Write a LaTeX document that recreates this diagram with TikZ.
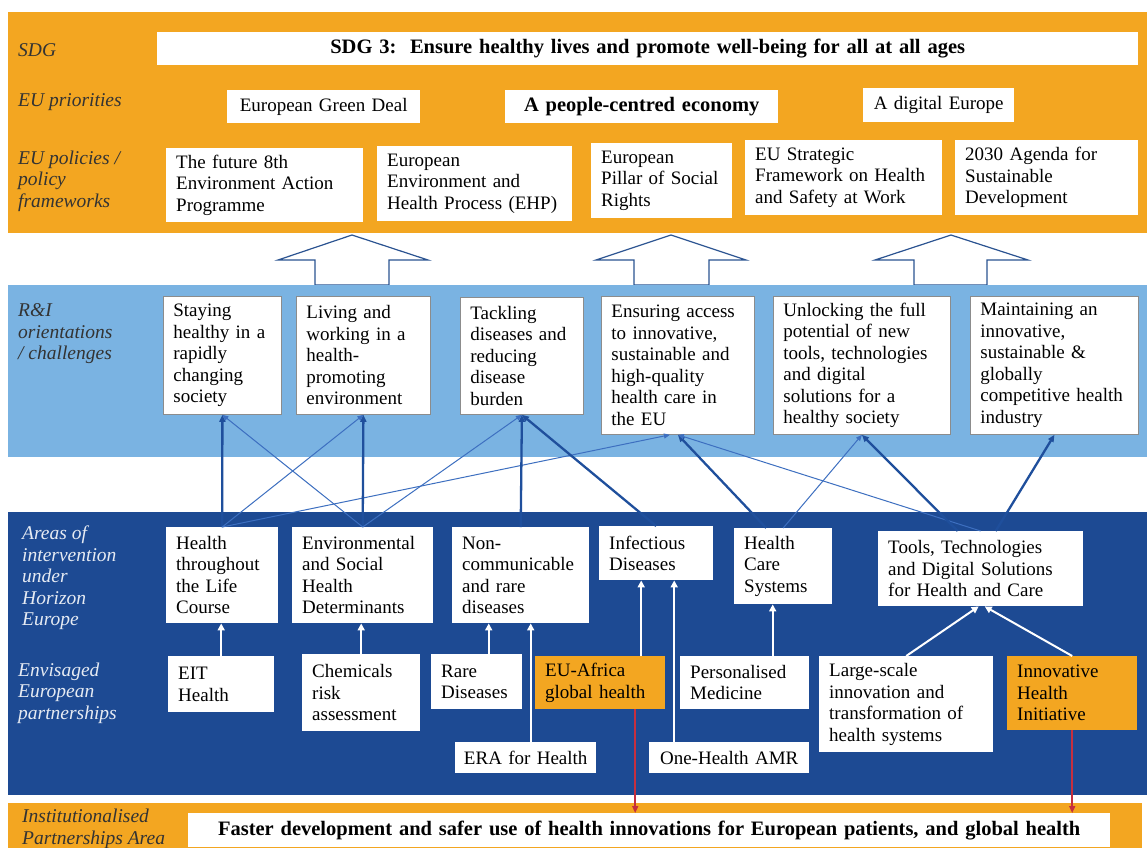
\documentclass[tikz,border=0pt]{standalone}
\usepackage{fontspec}
\setmainfont{Liberation Serif}
\usetikzlibrary{arrows.meta}

\definecolor{sdgorange}{HTML}{F3A621}
\definecolor{ribandblue}{HTML}{7AB3E2}
\definecolor{areablue}{HTML}{1D4A93}
\definecolor{linkdark}{HTML}{1F4F9C}
\definecolor{linkmid}{HTML}{3D6FC0}
\definecolor{arrowblue}{HTML}{2B5391}
\definecolor{boxgray}{HTML}{8C8C8C}
\definecolor{labgray}{HTML}{333333}
\definecolor{labwhite}{HTML}{E6EBF3}
\definecolor{instred}{HTML}{C62F3E}

\begin{document}
\begin{tikzpicture}[x=1pt, y=-1pt, font=\fontsize{19}{21.5}\selectfont,
  box/.style={fill=white, anchor=north west, align=left, inner xsep=10pt, inner ysep=1pt},
  ribox/.style={box, draw=boxgray, line width=0.8pt},
  pbox/.style={box, fill=sdgorange},
  cbox/.style={box, align=center, inner xsep=4pt},
  bfbox/.style={cbox, font=\fontsize{20.5}{22}\selectfont\bfseries},
  lab/.style={anchor=west, align=left, inner sep=0pt, text=labgray, font=\fontsize{19.5}{21.5}\selectfont\itshape},
  link/.style={draw=linkmid, line width=1pt, -{Triangle[length=6pt,width=5pt]}},
  mainlink/.style={draw=linkdark, line width=2.3pt, -{Triangle[length=7pt,width=6pt]}},
  feed/.style={draw=white, line width=2pt, -{Triangle[length=7pt,width=7pt]}},
  inst/.style={draw=instred, line width=1.6pt, -{Triangle[length=7pt,width=6pt]}},
  bigarrow/.style={draw=arrowblue, line width=1.2pt, fill=white}]

\useasboundingbox (0,0) rectangle (1147,847);
\fill[white] (0,0) rectangle (1147,847);

% bands
\fill[sdgorange] (8,12) rectangle (1147,233);
\draw[bigarrow] (315,285) -- (315,260) -- (278,260) -- (352,235) -- (428,260) -- (389,260) -- (389,285) -- cycle;
\draw[bigarrow] (634,285) -- (634,260) -- (596,260) -- (671,235) -- (746,260) -- (709,260) -- (709,285) -- cycle;
\draw[bigarrow] (914,285) -- (914,260) -- (875,260) -- (951,235) -- (1028,260) -- (987,260) -- (987,285) -- cycle;
\fill[ribandblue] (8,285) rectangle (1147,457);
\fill[areablue] (8,512) rectangle (1147,795);
\fill[sdgorange] (8,803) rectangle (1142,860);

% row labels
\node[lab] (lsdg) at (18,50) {SDG};
\node[lab] (lpri) at (18,102) {EU priorities};
\node[lab] (lpol) at (18,181) {EU policies /\\policy\\frameworks};
\node[lab] (lri) at (18,334) {R\&I\\orientations\\/ challenges};
\node[lab, text=labwhite] (larea) at (22,578) {Areas of\\intervention\\under\\Horizon\\Europe};
\node[lab, text=labwhite] (lpart) at (18,693) {Envisaged\\European\\partnerships};
\node[lab] (linst) at (22,829) {Institutionalised\\Partnerships Area};

% SDG, priorities, policies
\node[bfbox, text width=973pt, minimum height=33pt] (sdg) at (157,32) {SDG 3:\ \ Ensure healthy lives and promote well-being for all at all ages};
\node[cbox, text width=185pt, minimum height=33pt] (egd) at (227,90) {European Green Deal};
\node[bfbox, text width=265pt, minimum height=33pt] (pce) at (505,90) {A people-centred economy};
\node[cbox, text width=143pt, minimum height=34pt] (dig) at (863,88) {A digital Europe};

\node[box, text width=177pt, minimum height=74pt] (eap) at (166,148) {The future 8th\\Environment Action\\Programme};
\node[box, text width=175pt, minimum height=75pt] (ehp) at (377,146) {European\\Environment and\\Health Process (EHP)};
\node[box, text width=121pt, minimum height=75pt] (pil) at (591,143) {European\\Pillar of Social\\Rights};
\node[box, text width=177pt, minimum height=75pt] (osh) at (745,140) {EU Strategic\\Framework on Health\\and Safety at Work};
\node[box, text width=163pt, minimum height=75pt] (agd) at (955,140) {2030 Agenda for\\Sustainable\\Development};

% R&I orientations
\node[ribox, text width=98pt, minimum height=118pt] (stay) at (163,296) {Staying\\healthy in a\\rapidly\\changing\\society};
\node[ribox, text width=114pt, minimum height=118pt] (liv) at (296,296) {Living and\\working in a\\health-\\promoting\\environment};
\node[ribox, text width=103pt, minimum height=117pt] (tack) at (460,297) {Tackling\\diseases and\\reducing\\disease\\burden};
\node[ribox, text width=133pt, minimum height=138pt] (ens) at (601,296) {Ensuring access\\to innovative,\\sustainable and\\high-quality\\health care in\\the EU};
\node[ribox, text width=157pt, minimum height=138pt] (unl) at (773,296) {Unlocking the full\\potential of new\\tools, technologies\\and digital\\solutions for a\\healthy society};
\node[ribox, text width=148pt, minimum height=138pt] (mnt) at (970,296) {Maintaining an\\innovative,\\sustainable \&\\globally\\competitive health\\industry};

% areas of intervention
\node[box, text width=92pt, minimum height=96pt] (hlc) at (166,527) {Health\\throughout\\the Life\\Course};
\node[box, text width=121pt, minimum height=96pt] (esd) at (292,527) {Environmental\\and Social\\Health\\Determinants};
\node[box, text width=117pt, minimum height=96pt] (ncd) at (452,527) {Non-\\communicable\\and rare\\diseases};
\node[box, text width=94pt, minimum height=54pt] (inf) at (599,526) {Infectious\\Diseases};
\node[box, text width=78pt, minimum height=76pt] (hcs) at (734,528) {Health\\Care\\Systems};
\node[box, text width=185pt, minimum height=75pt] (ttd) at (878,531) {Tools, Technologies\\and Digital Solutions\\for Health and Care};

% envisaged partnerships
\node[box, text width=86pt, minimum height=56pt] (eit) at (168,656) {EIT\\Health};
\node[box, text width=98pt, minimum height=77pt] (chem) at (302,654) {Chemicals\\risk\\assessment};
\node[box, text width=71pt, minimum height=55pt] (rare) at (431,654) {Rare\\Diseases};
\node[pbox, text width=110pt, minimum height=53pt] (afr) at (535,656) {EU-Africa\\global health};
\node[box, text width=109pt, minimum height=53pt] (pmed) at (680,656) {Personalised\\Medicine};
\node[box, text width=154pt, minimum height=96pt] (lsi) at (819,656) {Large-scale\\innovation and\\transformation of\\health systems};
\node[pbox, text width=110pt, minimum height=74pt] (ihi) at (1007,656) {Innovative\\Health\\Initiative};
\node[cbox, text width=133pt, minimum height=31pt] (era) at (455,742) {ERA for Health};
\node[cbox, text width=152pt, minimum height=31pt] (amr) at (649,742) {One-Health AMR};

% institutionalised partnerships
\node[bfbox, text width=914pt, minimum height=34pt] (fast) at (188,813) {Faster development and safer use of health innovations for European patients, and global health};

% areas -> R&I orientations
\draw[mainlink] (hlc.north) -- (stay.south);
\draw[link] (hlc.north) -- (liv.south);
\draw[link] (hlc.north) -- ([xshift=-8pt]ens.south);
\draw[mainlink] (esd.north) -- (liv.south);
\draw[link] (esd.north) -- (stay.south);
\draw[link] (esd.north) -- (tack.south);
\draw[mainlink] (ncd.north) -- (tack.south);
\draw[mainlink] (inf.north) -- (tack.south);
\draw[mainlink] ([xshift=-17pt]hcs.north) -- (ens.south);
\draw[link] (hcs.north) -- (unl.south);
\draw[link] (ttd.north) -- (ens.south);
\draw[mainlink] ([xshift=-23pt]ttd.north) -- (unl.south);
\draw[mainlink] ([xshift=15pt]ttd.north) -- (mnt.south);

% partnerships -> areas
\coordinate (rareup) at ([xshift=12pt]rare.north);
\coordinate (eraup) at ([xshift=5pt]era.north);
\coordinate (afrup) at ([xshift=41pt]afr.north);
\coordinate (amrup) at ([xshift=-55pt]amr.north);
\coordinate (pmedup) at ([xshift=28pt]pmed.north);
\draw[feed] (eit.north) -- (eit.north |- hlc.south);
\draw[feed] (chem.north) -- (chem.north |- esd.south);
\draw[feed] (rareup) -- (rareup |- ncd.south);
\draw[feed] (eraup) -- (eraup |- ncd.south);
\draw[feed] (afrup) -- (afrup |- inf.south);
\draw[feed] (amrup) -- (amrup |- inf.south);
\draw[feed] (pmedup) -- (pmedup |- hcs.south);
\draw[feed] (lsi.north) -- ([xshift=-2pt]ttd.south);
\draw[feed] (ihi.north) -- ([xshift=4pt]ttd.south);

% -> institutionalised area
\coordinate (afrdown) at ([xshift=35pt]afr.south);
\draw[inst] (afrdown) -- (afrdown |- fast.north);
\draw[inst] (ihi.south) -- (ihi.south |- fast.north);
\end{tikzpicture}
\end{document}
